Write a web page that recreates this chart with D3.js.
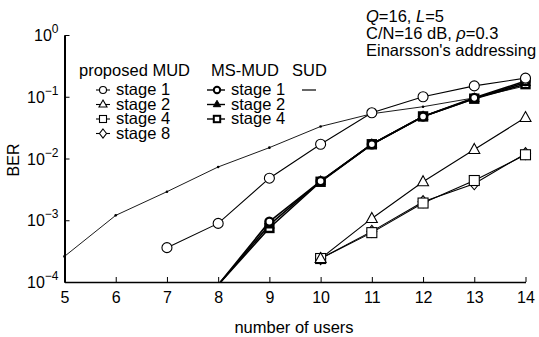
<!DOCTYPE html>
<html>
<head>
<meta charset="utf-8">
<script src="https://cdn.jsdelivr.net/npm/d3@7"></script>
<style>
  body { margin: 0; background: #fff; }
  text { font-family: "Liberation Sans", Arial, sans-serif; fill: #000; }
</style>
</head>
<body>
<div id="chart"></div>
<script>
// dane
var users = [5, 6, 7, 8, 9, 10, 11, 12, 13, 14]
var sud = [2.6e-4, 1.2e-3, 2.9e-3, 7.3e-3, 1.5e-2, 3.3e-2, 5.3e-2, 6.9e-2, 9.6e-2, 0.15]

var propUsers1 = [7, 8, 9, 10, 11, 12, 13, 14]
var propStage1 = [3.6e-4, 8.9e-4, 4.8e-3, 1.7e-2, 5.5e-2, 0.1, 0.15, 0.2]
var propUsers = [10, 11, 12, 13, 14]
var propStage2 = [2.4e-4, 1.07e-3, 4.2e-3, 1.4e-2, 4.6e-2]
var propStage4 = [2.4e-4, 6.3e-4, 1.9e-3, 4.4e-3, 1.15e-2]
var propStage8 = [2.4e-4, 6.6e-4, 2.0e-3, 3.9e-3, 1.2e-2]

var msUsers = [8, 9, 10, 11, 12, 13, 14]
var msStage1 = [9e-5, 9.5e-4, 4.3e-3, 1.7e-2, 4.8e-2, 9.6e-2, 0.18]
var msStage2 = [9e-5, 8.4e-4, 4.3e-3, 1.7e-2, 4.8e-2, 9.4e-2, 0.17]
var msStage4 = [9e-5, 7.5e-4, 4.2e-3, 1.7e-2, 4.8e-2, 9.3e-2, 0.16]

var xTicks = [5, 6, 7, 8, 9, 10, 11, 12, 13, 14]
var yTicks = [1, 1e-1, 1e-2, 1e-3, 1e-4]

var width = 539, height = 337
var mLeft = 64.5, mRight = 525.5, mTop = 35, mBottom = 282

var svg = d3.select("#chart").append("svg")
  .attr("width", width).attr("height", height)

var x = d3.scaleLinear().domain([5, 14]).range([mLeft, mRight])
var y = d3.scaleLog().domain([1e-4, 1]).range([mBottom, mTop])

svg.append("clipPath").attr("id", "clip")
  .append("rect").attr("x", mLeft - 8).attr("y", mTop - 8)
  .attr("width", mRight - mLeft + 16).attr("height", mBottom - mTop + 8)

// osie
var xAxis = svg.append("g").attr("transform", "translate(0," + mBottom + ")")
  .call(d3.axisBottom(x).tickValues(xTicks).tickSizeInner(-5).tickSizeOuter(0).tickPadding(10))
xAxis.select(".domain").attr("stroke-width", 1.6)
xAxis.selectAll("text").attr("font-size", 16).attr("font-family", "Liberation Sans, Arial, sans-serif")

var yAxis = svg.append("g").attr("transform", "translate(" + mLeft + ",0)")
  .call(d3.axisLeft(y).tickValues(yTicks).tickSizeInner(-5).tickSizeOuter(0).tickFormat(""))
yAxis.select(".domain").attr("stroke-width", 2)

yTicks.forEach(function(v) {
  var e = Math.round(Math.log10(v))
  var t = svg.append("text").attr("x", mLeft - 6).attr("y", y(v) + 6)
    .attr("text-anchor", "end").attr("font-size", 16)
  t.append("tspan").text("10")
  t.append("tspan").attr("dy", -8).attr("font-size", 12)
    .text(e === 0 ? "0" : "\u2212" + (-e))
})

svg.append("text").attr("transform", "translate(19,160) rotate(-90)")
  .attr("text-anchor", "middle").attr("font-size", 16).text("BER")
svg.append("text").attr("x", 294).attr("y", 333)
  .attr("text-anchor", "middle").attr("font-size", 16.5).text("number of users")

// symbole
function marker(g, type, cx, cy, filled, sw, s) {
  s = s || 5
  var fill = filled ? "#000" : "#fff"
  if (type === "circle") {
    g.append("circle").attr("cx", cx).attr("cy", cy).attr("r", s)
      .attr("fill", fill).attr("stroke", "#000").attr("stroke-width", sw)
  } else if (type === "triangle") {
    g.append("path").attr("d", "M" + cx + "," + (cy - s - 1) + "L" + (cx + s + 0.5) + "," + (cy + s - 1) + "L" + (cx - s - 0.5) + "," + (cy + s - 1) + "Z")
      .attr("fill", fill).attr("stroke", "#000").attr("stroke-width", sw)
  } else if (type === "square") {
    g.append("rect").attr("x", cx - s).attr("y", cy - s).attr("width", 2 * s).attr("height", 2 * s)
      .attr("fill", fill).attr("stroke", "#000").attr("stroke-width", sw)
  } else if (type === "diamond") {
    g.append("path").attr("d", "M" + cx + "," + (cy - s - 1) + "L" + (cx + s) + "," + cy + "L" + cx + "," + (cy + s + 1) + "L" + (cx - s) + "," + cy + "Z")
      .attr("fill", fill).attr("stroke", "#000").attr("stroke-width", sw)
  }
}

var line = d3.line().x(function(d) { return x(d[0]) }).y(function(d) { return y(d[1]) })
var plot = svg.append("g").attr("clip-path", "url(#clip)")

var series = [
  { xs: users, ys: sud, sym: null, lw: 0.9 },
  { xs: msUsers, ys: msStage4, sym: "square", filled: false, lw: 1.6, msw: 2.4, s: 4 },
  { xs: msUsers, ys: msStage2, sym: "triangle", filled: true, lw: 1.6, msw: 1.2, s: 4 },
  { xs: msUsers, ys: msStage1, sym: "circle", filled: false, lw: 1.6, msw: 2.4, s: 4 },
  { xs: propUsers, ys: propStage8, sym: "diamond", filled: false, lw: 1.1, msw: 1.1 },
  { xs: propUsers, ys: propStage4, sym: "square", filled: false, lw: 1.1, msw: 1.1 },
  { xs: propUsers, ys: propStage2, sym: "triangle", filled: false, lw: 1.1, msw: 1.1 },
  { xs: propUsers1, ys: propStage1, sym: "circle", filled: false, lw: 1.1, msw: 1.1 }
]

series.forEach(function(s) {
  var pts = s.xs.map(function(v, i) { return [v, s.ys[i]] })
  plot.append("path").datum(pts).attr("d", line)
    .attr("fill", "none").attr("stroke", "#000").attr("stroke-width", s.lw)
})
series.forEach(function(s) {
  s.xs.forEach(function(v, i) {
    if (s.ys[i] < 1e-4) return
    if (s.sym) marker(plot, s.sym, x(v), y(s.ys[i]), s.filled, s.msw, s.s)
    else plot.append("circle").attr("cx", x(v)).attr("cy", y(s.ys[i])).attr("r", 1.3).attr("fill", "#000")
  })
})

// legenda
var fs = 16.5
svg.append("text").attr("x", 79).attr("y", 76).attr("font-size", fs).text("proposed MUD")
svg.append("text").attr("x", 211).attr("y", 76).attr("font-size", fs).text("MS-MUD")
svg.append("text").attr("x", 292).attr("y", 76).attr("font-size", fs).text("SUD")

var propLeg = [["circle", "stage 1"], ["triangle", "stage 2"], ["square", "stage 4"], ["diamond", "stage 8"]]
propLeg.forEach(function(d, i) {
  var ly = 95 + i * 14.5
  svg.append("line").attr("x1", 96).attr("x2", 110).attr("y1", ly - 5).attr("y2", ly - 5)
    .attr("stroke", "#000").attr("stroke-width", 1.1)
  marker(svg, d[0], 103, ly - 5, false, 1.1, 3.5)
  svg.append("text").attr("x", 116).attr("y", ly).attr("font-size", fs).text(d[1])
})
var msLeg = [["circle", "stage 1", false, 2], ["triangle", "stage 2", true, 1], ["square", "stage 4", false, 2]]
msLeg.forEach(function(d, i) {
  var ly = 95 + i * 14.5
  svg.append("line").attr("x1", 207).attr("x2", 225).attr("y1", ly - 5).attr("y2", ly - 5)
    .attr("stroke", "#000").attr("stroke-width", 1.4)
  marker(svg, d[0], 217, ly - 5, d[2], d[3], 3.2)
  svg.append("text").attr("x", 231).attr("y", ly).attr("font-size", fs).text(d[1])
})
svg.append("line").attr("x1", 302).attr("x2", 316).attr("y1", 90).attr("y2", 90)
  .attr("stroke", "#000").attr("stroke-width", 1.2)

// parametry
var info = svg.append("g").attr("font-size", 16.5)
var t1 = info.append("text").attr("x", 366).attr("y", 22)
t1.append("tspan").attr("font-style", "italic").text("Q")
t1.append("tspan").text("=16, ")
t1.append("tspan").attr("font-style", "italic").text("L")
t1.append("tspan").text("=5")
var t2 = info.append("text").attr("x", 366).attr("y", 39)
t2.append("tspan").text("C/N=16 dB, ")
t2.append("tspan").attr("font-style", "italic").text("\u03c1")
t2.append("tspan").text("=0.3")
info.append("text").attr("x", 366).attr("y", 56).text("Einarsson's addressing")
</script>
</body>
</html>
